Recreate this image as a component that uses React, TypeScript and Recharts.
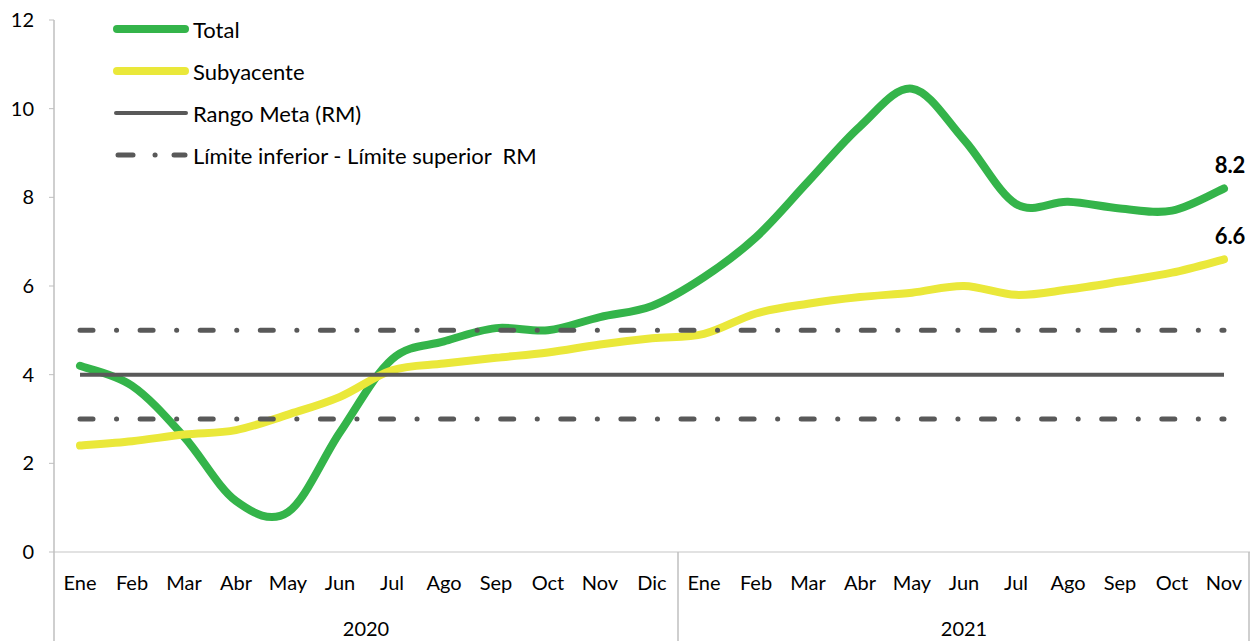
import React from 'react';
import { LineChart, Line, XAxis, YAxis, Legend, LabelList } from 'recharts';

// categorias
const months2020 = ['Ene', 'Feb', 'Mar', 'Abr', 'May', 'Jun', 'Jul', 'Ago', 'Sep', 'Oct', 'Nov', 'Dic'];
const months2021 = ['Ene', 'Feb', 'Mar', 'Abr', 'May', 'Jun', 'Jul', 'Ago', 'Sep', 'Oct', 'Nov'];
const years = ['2020', '2021'];

// series (%)
const total = [4.2, 3.75, 2.6, 1.15, 0.9, 2.7, 4.35, 4.75, 5.05, 5.0, 5.3, 5.55, 6.2, 7.1, 8.35, 9.6, 10.45, 9.3, 7.85, 7.9, 7.75, 7.7, 8.2];
const subyacente = [2.4, 2.5, 2.65, 2.75, 3.1, 3.5, 4.1, 4.25, 4.38, 4.5, 4.68, 4.82, 4.92, 5.38, 5.6, 5.75, 5.85, 6.0, 5.8, 5.92, 6.1, 6.3, 6.6];
const rangoMeta = [4, 4, 4, 4, 4, 4, 4, 4, 4, 4, 4, 4, 4, 4, 4, 4, 4, 4, 4, 4, 4, 4, 4];
const limiteInf = [3, 3, 3, 3, 3, 3, 3, 3, 3, 3, 3, 3, 3, 3, 3, 3, 3, 3, 3, 3, 3, 3, 3];
const limiteSup = [5, 5, 5, 5, 5, 5, 5, 5, 5, 5, 5, 5, 5, 5, 5, 5, 5, 5, 5, 5, 5, 5, 5];
const yTicks = [0, 2, 4, 6, 8, 10, 12];

const GREEN = '#34B44A';
const YELLOW = '#EAE83A';
const GREY = '#595959';
const AXIS = '#BFBFBF';
const FONT = 'Lato, "Open Sans", sans-serif';

const W = 1250;
const H = 641;
const Y_AXIS_W = 54;
const RIGHT = 0;
const X_AXIS_H = 89;

const cats = [
  ...months2020.map((m) => ({ m, y: years[0] })),
  ...months2021.map((m) => ({ m, y: years[1] })),
];
const BAND = (W - Y_AXIS_W - RIGHT) / cats.length;

const data = cats.map((c, i) => ({
  key: `${c.m}-${c.y}`,
  mes: c.m,
  anio: c.y,
  total: total[i],
  subyacente: subyacente[i],
  meta: rangoMeta[i],
  inf: limiteInf[i],
  sup: limiteSup[i],
}));

// suavizado tipo Excel (catmull-rom)
function smooth(context: any) {
  let pts: number[][] = [];
  return {
    areaStart() {},
    areaEnd() {},
    lineStart() {
      pts = [];
    },
    point(x: number, y: number) {
      pts.push([+x, +y]);
    },
    lineEnd() {
      if (!pts.length) return;
      context.moveTo(pts[0][0], pts[0][1]);
      for (let i = 0; i < pts.length - 1; i++) {
        const p0 = pts[i - 1] || pts[i];
        const p1 = pts[i];
        const p2 = pts[i + 1];
        const p3 = pts[i + 2] || p2;
        context.bezierCurveTo(
          p1[0] + (p2[0] - p0[0]) / 6,
          p1[1] + (p2[1] - p0[1]) / 6,
          p2[0] - (p3[0] - p1[0]) / 6,
          p2[1] - (p3[1] - p1[1]) / 6,
          p2[0],
          p2[1]
        );
      }
    },
  };
}

function MonthTick(props: any) {
  const { x, y, payload } = props;
  const i = payload.index;
  const c = cats[i];
  const first = i === 0 || cats[i - 1].y !== c.y;
  const last = i === cats.length - 1;
  const count = cats.filter((d) => d.y === c.y).length;
  return (
    <g>
      <text x={x} y={y + 38} textAnchor="middle" fontSize={20} fill="#000" fontFamily={FONT}>
        {c.m}
      </text>
      {first && <line x1={x - BAND / 2} x2={x - BAND / 2} y1={y} y2={y + X_AXIS_H} stroke={AXIS} strokeWidth={1.5} />}
      {last && <line x1={x + BAND / 2 - 1} x2={x + BAND / 2 - 1} y1={y} y2={y + X_AXIS_H} stroke={AXIS} strokeWidth={1.5} />}
      {first && (
        <text x={x + ((count - 1) / 2) * BAND} y={y + 84} textAnchor="middle" fontSize={20} fill="#000" fontFamily={FONT}>
          {c.y}
        </text>
      )}
    </g>
  );
}

const legendItems = [
  { name: 'Total', color: GREEN, kind: 'thick' },
  { name: 'Subyacente', color: YELLOW, kind: 'thick' },
  { name: 'Rango Meta (RM)', color: GREY, kind: 'solid' },
  { name: 'Límite inferior - Límite superior  RM', color: GREY, kind: 'dashdot' },
];

function LegendBox() {
  return (
    <div style={{ fontFamily: FONT, fontSize: 22, color: '#000' }}>
      {legendItems.map((it) => (
        <div key={it.name} style={{ display: 'flex', alignItems: 'center', height: 42, whiteSpace: 'pre' }}>
          <svg width={80} height={12}>
            {it.kind === 'thick' && <line x1={6} x2={74} y1={6} y2={6} stroke={it.color} strokeWidth={8} strokeLinecap="round" />}
            {it.kind === 'solid' && <line x1={5} x2={75} y1={6} y2={6} stroke={it.color} strokeWidth={4} strokeLinecap="round" />}
            {it.kind === 'dashdot' && (
              <g stroke={it.color} strokeWidth={5} strokeLinecap="round">
                <line x1={7} x2={22} y1={6} y2={6} />
                <line x1={44} x2={44.1} y1={6} y2={6} />
                <line x1={63} x2={74} y1={6} y2={6} />
              </g>
            )}
          </svg>
          <span style={{ marginLeft: 2 }}>{it.name}</span>
        </div>
      ))}
    </div>
  );
}

function EndLabel(props: any) {
  const { x, y, value, index } = props;
  if (index !== cats.length - 1) return null;
  return (
    <text x={x + 6} y={y - 15} textAnchor="middle" fontSize={22} fontWeight="bold" fill="#000" fontFamily={FONT}>
      {Number(value).toFixed(1)}
    </text>
  );
}

export default function App() {
  return (
    <div style={{ position: 'absolute', left: 0, top: 0, background: '#fff' }}>
      <LineChart width={W} height={H} data={data} margin={{ top: 20, right: RIGHT, left: 0, bottom: 0 }}>
        <XAxis
          dataKey="key"
          height={X_AXIS_H}
          interval={0}
          padding={{ left: BAND / 2, right: BAND / 2 }}
          tickLine={false}
          tickSize={0}
          tickMargin={0}
          axisLine={{ stroke: '#D9D9D9', strokeWidth: 1.5 }}
          tick={<MonthTick />}
        />
        <YAxis
          width={Y_AXIS_W}
          domain={[0, 12]}
          ticks={yTicks}
          interval={0}
          axisLine={{ stroke: AXIS, strokeWidth: 1.5 }}
          tickLine={{ stroke: AXIS }}
          tickSize={5}
          tickMargin={15}
          tick={{ fill: '#000', fontSize: 20, fontFamily: FONT }}
        />
        <Legend
          layout="vertical"
          align="center"
          verticalAlign="middle"
          wrapperStyle={{ left: 111, top: 8, width: 'auto', height: 'auto' }}
          content={<LegendBox />}
        />
        <Line dataKey="total" type={smooth as any} stroke={GREEN} strokeWidth={8} strokeLinecap="round" dot={false} isAnimationActive={false}>
          <LabelList dataKey="total" content={<EndLabel />} />
        </Line>
        <Line dataKey="subyacente" type={smooth as any} stroke={YELLOW} strokeWidth={8} strokeLinecap="round" dot={false} isAnimationActive={false}>
          <LabelList dataKey="subyacente" content={<EndLabel />} />
        </Line>
        <Line dataKey="meta" type="linear" stroke={GREY} strokeWidth={4} dot={false} legendType="none" isAnimationActive={false} />
        <Line dataKey="inf" type="linear" stroke={GREY} strokeWidth={5} strokeLinecap="round" strokeDasharray="13 23.5 0.1 23.5" dot={false} isAnimationActive={false} />
        <Line dataKey="sup" type="linear" stroke={GREY} strokeWidth={5} strokeLinecap="round" strokeDasharray="13 23.5 0.1 23.5" dot={false} isAnimationActive={false} />
      </LineChart>
    </div>
  );
}
